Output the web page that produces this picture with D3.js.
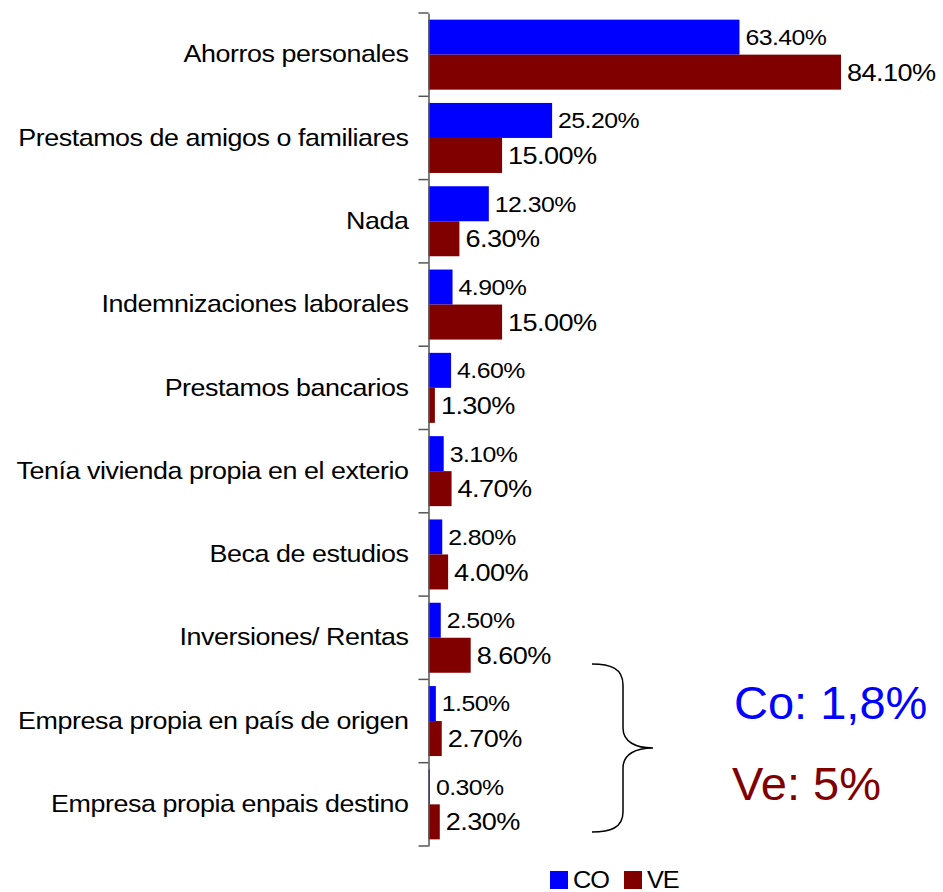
<!DOCTYPE html>
<html>
<head>
<meta charset="utf-8">
<script src="https://cdn.jsdelivr.net/npm/d3@7"></script>
<style>
  body { margin: 0; background: #fff; }
  text { font-family: "Liberation Sans", Arial, sans-serif; }
</style>
</head>
<body>
<svg id="chart" width="943" height="892"></svg>
<script>
// Data
var categories = [
  "Ahorros personales",
  "Prestamos de amigos o familiares",
  "Nada",
  "Indemnizaciones laborales",
  "Prestamos bancarios",
  "Tenía vivienda propia en el exterio",
  "Beca de estudios",
  "Inversiones/ Rentas",
  "Empresa propia en país de origen",
  "Empresa propia enpais destino"
];
var seriesNames = ["CO", "VE"];
var coValues = [63.4, 25.2, 12.3, 4.9, 4.6, 3.1, 2.8, 2.5, 1.5, 0.3];
var veValues = [84.1, 15.0, 6.3, 15.0, 1.3, 4.7, 4.0, 8.6, 2.7, 2.3];
var notes = ["Co: 1,8%", "Ve: 5%"];

var colors = {CO: "#0000ff", VE: "#800000"};

var svg = d3.select("#chart");

var x = d3.scaleLinear().domain([0, 100]).range([428.5, 919]);
var y = d3.scaleBand().domain(categories).range([13, 846]).padding(0);
var ySub = d3.scaleBand().domain(seriesNames)
  .range([0, y.bandwidth()]).paddingInner(0).paddingOuter(0.19);

var rows = categories.map(function(c, i) {
  return {cat: c, vals: [{k: "CO", v: coValues[i]}, {k: "VE", v: veValues[i]}]};
});

// bars
var groups = svg.append("g").selectAll("g")
  .data(rows)
  .enter().append("g")
  .attr("transform", function(d) { return "translate(0," + y(d.cat) + ")"; });

groups.selectAll("rect")
  .data(function(d) { return d.vals; })
  .enter().append("rect")
  .attr("x", x(0))
  .attr("y", function(d) { return ySub(d.k); })
  .attr("width", function(d) { return x(d.v) - x(0); })
  .attr("height", ySub.bandwidth())
  .attr("fill", function(d) { return colors[d.k]; });

// value labels
groups.selectAll("text.val")
  .data(function(d) { return d.vals; })
  .enter().append("text")
  .attr("class", "val")
  .attr("transform", function(d) {
    return "translate(" + (x(d.v) + 6) + "," + (ySub(d.k) + ySub.bandwidth() / 2) + ") scale(1.13,1)";
  })
  .attr("dy", "0.36em")
  .style("font-size", function(d) { return d.k == "CO" ? "22px" : "24px"; })
  .style("letter-spacing", "-0.5px")
  .attr("fill", "#000")
  .text(function(d) { return d.v.toFixed(2) + "%"; });

// axis
var axis = svg.append("g")
  .attr("transform", "translate(" + x(0) + ",0)")
  .call(d3.axisLeft(y).tickSize(0).tickPadding(20));
axis.select(".domain").attr("stroke", "#555").attr("stroke-width", 1.5);
axis.selectAll(".tick text")
  .attr("fill", "#000")
  .style("font-size", "24px")
  .style("letter-spacing", "-0.4px")
  .attr("transform", "translate(-20,0) scale(1.12,1) translate(20,0)");

// ticks at band edges
var edges = categories.map(function(c) { return y(c); }).concat([y.range()[1]]);
svg.append("g").selectAll("line")
  .data(edges)
  .enter().append("line")
  .attr("x1", x(0) - 10).attr("x2", x(0))
  .attr("y1", function(d) { return d; }).attr("y2", function(d) { return d; })
  .attr("stroke", "#555").attr("stroke-width", 1.5);

// brace
var br = d3.path();
br.moveTo(592, 664);
br.bezierCurveTo(610, 664, 623, 668, 623, 685);
br.lineTo(623, 728);
br.bezierCurveTo(623, 742, 636, 748, 653, 748);
br.bezierCurveTo(636, 748, 623, 754, 623, 768);
br.lineTo(623, 812);
br.bezierCurveTo(623, 828, 610, 832, 592, 832);
svg.append("path")
  .attr("d", br.toString())
  .attr("fill", "none")
  .attr("stroke", "#000")
  .attr("stroke-width", 1.5);

// annotations
svg.append("text")
  .attr("x", 734).attr("y", 719)
  .style("font-size", "47px")
  .attr("fill", colors.CO)
  .text(notes[0]);
svg.append("text")
  .attr("x", 732).attr("y", 800)
  .style("font-size", "47px")
  .attr("fill", colors.VE)
  .text(notes[1]);

// legend
var legend = svg.append("g");
var legX = [550, 624];
seriesNames.forEach(function(s, i) {
  legend.append("rect")
    .attr("x", legX[i]).attr("y", 871)
    .attr("width", 18).attr("height", 18)
    .attr("fill", colors[s]);
  legend.append("text")
    .attr("transform", "translate(" + (legX[i] + 23) + ",888) scale(1.1,1)")
    .style("font-size", "23px")
    .style("letter-spacing", "-1px")
    .attr("fill", "#000")
    .text(s);
});
</script>
</body>
</html>
